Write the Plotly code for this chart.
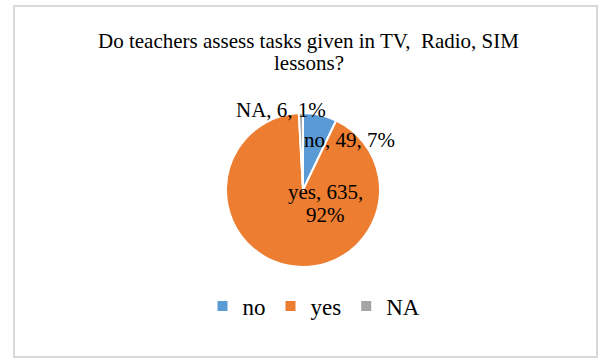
import plotly.graph_objects as go

categories = ["no", "yes", "NA"]
counts = [49, 635, 6]
colors = ["#5B9BD5", "#ED7D31", "#A5A5A5"]
title_line1 = "Do teachers assess tasks given in TV,  Radio, SIM"
title_line2 = "lessons?"

W, H = 598, 358
total = sum(counts)
pcts = [round(100 * c / total) for c in counts]
# each label split into lines (Excel-style wrapping)
label_lines = [
    [f"{categories[0]}, {counts[0]}, {pcts[0]}%"],
    [f"{categories[1]}, {counts[1]},", f"{pcts[1]}%"],
    [f"{categories[2]}, {counts[2]}, {pcts[2]}%"],
]
# label anchor positions in pixels (layout only): x, y of first line
label_pos = [(349, 140), (325, 192), (281, 110)]
line_gap = 23

cx, cy, r = 303, 190, 77
fig = go.Figure()
fig.add_trace(go.Pie(
    labels=categories,
    values=counts,
    sort=False,
    direction="clockwise",
    rotation=0,
    marker=dict(colors=colors, line=dict(color="white", width=2)),
    textinfo="none",
    hoverinfo="label+value+percent",
    domain=dict(x=[(cx - r) / W, (cx + r) / W], y=[(H - cy - r) / H, (H - cy + r) / H]),
))

font_family = "Liberation Serif, Times New Roman, serif"
for lines, (px, py) in zip(label_lines, label_pos):
    for i, txt in enumerate(lines):
        fig.add_annotation(
            x=px / W, y=1 - (py + i * line_gap) / H, xref="paper", yref="paper",
            text=txt, showarrow=False, xanchor="center", yanchor="middle",
            font=dict(family=font_family, size=21, color="#000000"),
        )

fig.add_annotation(
    x=308.5 / W, y=1 - 63 / H, xref="paper", yref="paper",
    text=title_line2, showarrow=False, xanchor="center", yanchor="middle",
    font=dict(family=font_family, size=21, color="#000000"),
)

fig.add_shape(type="rect", xref="paper", yref="paper",
              x0=14 / W, y0=1 - 357 / H, x1=597 / W, y1=1 - 6 / H,
              line=dict(color="#d9d9d9", width=2), fillcolor="rgba(0,0,0,0)")

fig.update_layout(
    width=W, height=H,
    margin=dict(l=0, r=0, t=0, b=0),
    paper_bgcolor="white",
    plot_bgcolor="white",
    title=dict(text=title_line1, x=308.5 / W, xanchor="center", y=1 - 41 / H, yanchor="middle",
               font=dict(family=font_family, size=21, color="#000000")),
    showlegend=True,
    legend=dict(orientation="h", x=314 / W, xanchor="center", y=1 - 306 / H, yanchor="middle",
                font=dict(family=font_family, size=23, color="#000000"),
                itemwidth=30, traceorder="normal"),
)

fig.write_html("out.html")
